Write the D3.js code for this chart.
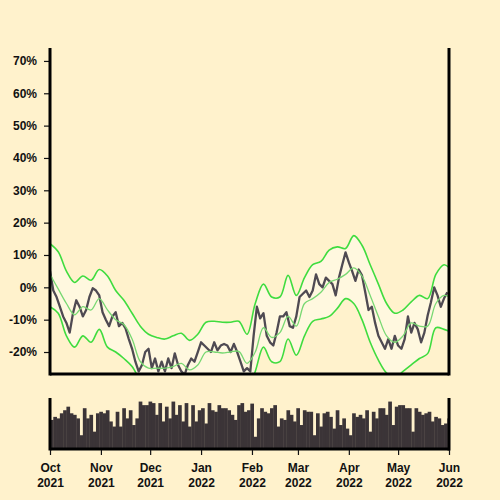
<!DOCTYPE html>
<html>
<head>
<meta charset="utf-8">
<script src="https://cdn.jsdelivr.net/npm/d3@7"></script>
<style>
body { margin: 0; background: #fff2cc; }
svg { display: block; }
.axis text { font: bold 12px "Liberation Sans", Arial, sans-serif; fill: #111; }
.axis line { stroke: #111; stroke-width: 1.2px; }
.spine { stroke: #000; stroke-width: 3px; }
</style>
</head>
<body>
<svg id="chart" width="500" height="500"></svg>
<script>

// start date and spacing of the samples (days)
var startDate = "2021-10-01",
    endDate = "2022-06-01",
    priceStep = 2,
    bandStep = 5;

// price change in %, one value every 2 days
var price = [5, -1, -3, -6, -9, -11, -14, -8, -4, -6,
  -9, -7, -3, -0.3, -1, -2.5, -7.7, -10, -12, -9,
  -7.7, -12, -11, -12.7, -16, -19, -23, -26, -24, -20,
  -19, -25, -22, -26, -23, -26, -22, -25, -20.4, -24,
  -26, -27, -24, -22, -23, -20, -17, -18, -19, -20,
  -17, -19.5, -18, -17.5, -18, -20, -17.5, -20, -23, -26,
  -25, -26, -15, -6, -9.6, -8, -15, -17, -18, -14,
  -9, -9, -7.7, -12, -12.5, -9, -3, -2, -1, -3,
  -1, 4, 1, 0, 3, 2, 1, -2.5, 3, 7,
  10.8, 7.7, 5, 2, 5.5, 3.7, -1.5, -7, -6, -11,
  -15, -17, -19, -16, -19, -15, -18, -19, -16, -9,
  -14, -11, -13, -17, -14, -8.7, -4.6, 0, -2.5, -6,
  -3.4, -1.5];

// bands, one value every 5 days
var upperBand = [13.5, 11, 5, 1.5, 3.5, 2.2, 5.5, 3.5, -1, -4,
  -8, -12, -14.5, -15.5, -16, -15, -14.2, -16.4, -14.5, -10.8,
  -10.5, -10.8, -10.8, -10.5, -14.5, -5, 1, -3, -3, 3.7,
  -2.5, 3, 7, 8, 11.5, 12.5, 12, 16, 13, 7,
  1, -5, -8, -7, -4.5, -2.5, -3.5, 4, 7, 5];
var middleBand = [4, -0.5, -5, -8.5, -6, -7, -3.5, -7, -10, -11.5,
  -16, -23, -25, -25, -25, -24.5, -23.5, -25.5, -24, -20,
  -20, -20.3, -20, -19.8, -23.5, -20, -12.5, -15.5, -14, -9,
  -12, -5, -3.5, -1.5, 1.5, 2.5, 4, 6, 3.5, -2.5,
  -9, -15, -17, -15, -11, -12, -12, -5, -2.5, -3.5];
var lowerBand = [-6, -8, -15, -18.5, -15, -17, -13, -18.5, -20, -22,
  -24.5, -29, -33, -34, -34, -34, -33, -35, -33, -30,
  -30, -30, -29, -29, -32, -26, -18.5, -23, -23, -16,
  -21, -15, -10.5, -9.8, -9, -6.5, -3.5, -5, -10, -17,
  -22.5, -26.5, -28, -26, -24, -22, -20.5, -12.5, -13, -14];

// volume, one bar every 2 days
var volume = [57, 63, 60, 70, 76, 83, 70, 67, 60, 27,
  80, 60, 67, 34, 70, 73, 70, 76, 54, 44,
  73, 44, 80, 60, 76, 47, 60, 93, 86, 86,
  93, 90, 67, 90, 54, 83, 60, 93, 67, 86,
  54, 90, 44, 86, 54, 76, 80, 50, 90, 76,
  73, 86, 80, 80, 76, 67, 57, 86, 90, 73,
  76, 89, 24, 60, 80, 73, 70, 80, 86, 44,
  60, 57, 76, 67, 54, 80, 47, 76, 73, 73,
  27, 70, 44, 70, 73, 63, 40, 76, 47, 60,
  40, 27, 70, 63, 67, 60, 76, 34, 73, 60,
  80, 80, 67, 93, 47, 83, 86, 86, 80, 80,
  34, 80, 73, 67, 70, 73, 54, 63, 60, 47,
  50, 60];

var yTicks = [-20, -10, 0, 10, 20, 30, 40, 50, 60, 70];

var svg = d3.select("#chart");
var plotLeft = 50, plotRight = 449,
    plotTop = 48, plotBottom = 374,
    volTop = 398, volBottom = 449;

var t0 = d3.utcParse("%Y-%m-%d")(startDate),
    t1 = d3.utcParse("%Y-%m-%d")(endDate);

function day(n) { return d3.utcDay.offset(t0, n); }

var x = d3.scaleUtc().domain([t0, t1]).range([plotLeft, plotRight]);
var y = d3.scaleLinear().domain([-26.8, 74]).range([plotBottom, plotTop]);
var yVol = d3.scaleLinear().domain([0, 100]).range([volBottom, volTop]);

var priceData = price.map(function(v, i) { return {date: day(i * priceStep), v: v}; });
var bandData = upperBand.map(function(v, i) {
  return {date: day(i * bandStep), hi: v, mid: middleBand[i], lo: lowerBand[i]};
});

svg.append("clipPath").attr("id", "clip")
  .append("rect").attr("x", plotLeft).attr("y", plotTop)
  .attr("width", plotRight - plotLeft).attr("height", plotBottom - plotTop);

var plot = svg.append("g").attr("clip-path", "url(#clip)");

var curve = d3.curveCatmullRom;

// band fill
plot.append("path")
  .datum(bandData)
  .attr("fill", "#fff8df")
  .attr("d", d3.area().curve(curve)
    .x(function(d) { return x(d.date); })
    .y0(function(d) { return y(d.lo); })
    .y1(function(d) { return y(d.hi); }));

// price
plot.append("path")
  .datum(priceData)
  .attr("fill", "none")
  .attr("stroke", "#4f4a52")
  .attr("stroke-width", 2.3)
  .attr("stroke-linejoin", "round")
  .attr("d", d3.line()
    .x(function(d) { return x(d.date); })
    .y(function(d) { return y(d.v); }));

// bands
[["hi", "#3fdc3f", 1.6], ["mid", "#78d872", 1.3], ["lo", "#3fdc3f", 1.6]].forEach(function(b) {
  plot.append("path")
    .datum(bandData)
    .attr("fill", "none")
    .attr("stroke", b[1])
    .attr("stroke-width", b[2])
    .attr("d", d3.line().curve(curve)
      .x(function(d) { return x(d.date); })
      .y(function(d) { return y(d[b[0]]); }));
});

// y axis
var yAxis = svg.append("g")
  .attr("class", "axis")
  .attr("transform", "translate(" + (plotLeft - 1) + ",0)")
  .call(d3.axisLeft(y).tickValues(yTicks).tickSize(5).tickPadding(7)
    .tickFormat(function(d) { return d + "%"; }));
yAxis.select(".domain").remove();

// main spines
svg.append("line").attr("class", "spine").attr("x1", plotLeft).attr("x2", plotLeft).attr("y1", plotTop).attr("y2", plotBottom + 1.5);
svg.append("line").attr("class", "spine").attr("x1", plotRight).attr("x2", plotRight).attr("y1", plotTop).attr("y2", plotBottom + 1.5);
svg.append("line").attr("class", "spine").attr("x1", plotLeft).attr("x2", plotRight).attr("y1", plotBottom).attr("y2", plotBottom);

// volume bars
svg.append("g")
  .selectAll("rect")
  .data(volume)
  .enter().append("rect")
  .attr("fill", "#3b3437")
  .attr("x", function(d, i) { return x(day(i * priceStep)); })
  .attr("width", function(d, i) {
    var w = x(day((i + 1) * priceStep)) - x(day(i * priceStep)) + 0.4;
    return Math.max(0, Math.min(w, plotRight - x(day(i * priceStep))));
  })
  .attr("y", function(d) { return yVol(d); })
  .attr("height", function(d) { return volBottom - yVol(d); });

svg.append("line").attr("class", "spine").attr("x1", plotLeft).attr("x2", plotLeft).attr("y1", volTop).attr("y2", volBottom + 1.5);
svg.append("line").attr("class", "spine").attr("x1", plotRight).attr("x2", plotRight).attr("y1", volTop).attr("y2", volBottom + 1.5);
svg.append("line").attr("class", "spine").attr("x1", plotLeft).attr("x2", plotRight).attr("y1", volBottom).attr("y2", volBottom);

// x axis
var xAxis = svg.append("g")
  .attr("class", "axis")
  .attr("transform", "translate(0," + (volBottom + 1) + ")")
  .call(d3.axisBottom(x).ticks(d3.utcMonth.every(1)).tickSize(5).tickPadding(8)
    .tickFormat(function() { return ""; }));
xAxis.select(".domain").remove();

xAxis.selectAll(".tick text").each(function(d) {
  var t = d3.select(this);
  t.append("tspan").attr("x", 0).attr("dy", "0.71em").text(d3.utcFormat("%b")(d));
  t.append("tspan").attr("x", 0).attr("dy", "1.25em").text(d3.utcFormat("%Y")(d));
}).attr("dy", null);

</script>
</body>
</html>
